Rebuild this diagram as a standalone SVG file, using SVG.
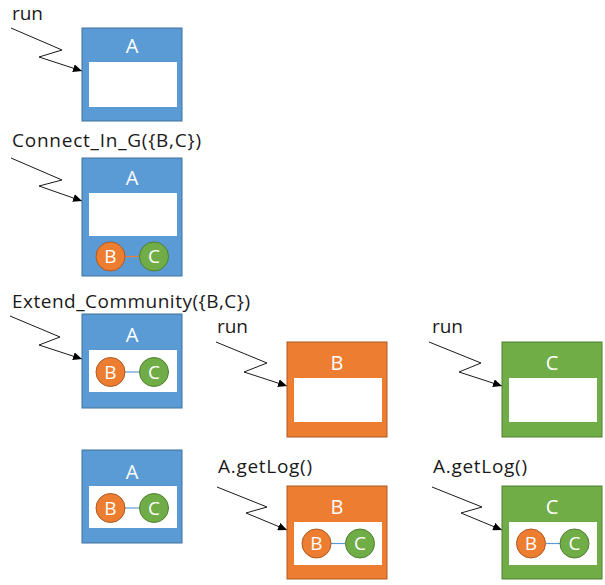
<svg xmlns="http://www.w3.org/2000/svg" width="605" height="585" viewBox="0 0 605 585">
<defs>
<style>
.lbl{font-family:"Open Sans","Liberation Sans",sans-serif;font-size:19px;fill:#1a1a1a}
.nl{font-family:"Open Sans","Liberation Sans",sans-serif;font-size:20px;fill:#ffffff;text-anchor:middle}
.cl{font-family:"Open Sans","Liberation Sans",sans-serif;font-size:19px;fill:#ffffff;text-anchor:middle}
.blue{fill:#5B9BD5;stroke:#41719C;stroke-width:1}
.orange{fill:#ED7D31;stroke:#AE5A21;stroke-width:1}
.green{fill:#70AD47;stroke:#507E32;stroke-width:1}
.inner{fill:#ffffff}
.cb{fill:#ED7D31;stroke:#AE5A21;stroke-width:1}
.cc{fill:#70AD47;stroke:#507E32;stroke-width:1}
.lnb{stroke:#5B9BD5;stroke-width:1.2}
.lno{stroke:#ED7D31;stroke-width:1.2}
.conn{fill:none;stroke:#1a1a1a;stroke-width:1;marker-end:url(#arr)}
</style>
<marker id="arr" markerUnits="userSpaceOnUse" markerWidth="10" markerHeight="8" refX="9" refY="4" orient="auto">
<path d="M0,0 L9,4 L0,8 Z" fill="#000"/>
</marker>
</defs>
<rect width="605" height="585" fill="#ffffff"/>

<g id="labels">
<text class="lbl" x="12" y="19.5" textLength="31">run</text>
<text class="lbl" x="12" y="147" textLength="189">Connect_In_G({B,C})</text>
<text class="lbl" x="12" y="308" textLength="238">Extend_Community({B,C})</text>
<text class="lbl" x="217" y="333" textLength="31">run</text>
<text class="lbl" x="432" y="333" textLength="31">run</text>
<text class="lbl" x="218" y="473" textLength="94">A.getLog()</text>
<text class="lbl" x="433" y="473" textLength="94">A.getLog()</text>
</g>

<g id="connectors">
<path class="conn" d="M11,28 L62,50 L39,57 L82,71"/>
<path class="conn" d="M11,158 L62,180 L39,186 L82,201"/>
<path class="conn" d="M10,316 L60,337 L39,345 L82,359"/>
<path class="conn" d="M216,342 L267,363 L244,372 L287,386"/>
<path class="conn" d="M429,342 L481,363 L459,372 L502,386"/>
<path class="conn" d="M217,487 L267,507 L246,513 L287,530"/>
<path class="conn" d="M432,487 L482,507 L461,513 L502,530"/>
</g>

<g id="nodeA1">
<rect class="blue" x="82" y="28" width="100" height="93"/>
<text class="nl" x="132" y="53">A</text>
<rect class="inner" x="89" y="62" width="88" height="45"/>
</g>

<g id="nodeA2">
<rect class="blue" x="82" y="158" width="100" height="118"/>
<text class="nl" x="132" y="184.5">A</text>
<rect class="inner" x="89" y="193" width="88" height="43"/>
<line class="lno" x1="125" y1="256.5" x2="139.5" y2="256.5"/>
<circle class="cb" cx="110.5" cy="256.5" r="14.5"/>
<circle class="cc" cx="154" cy="256.5" r="14.5"/>
<text class="cl" x="110.5" y="263">B</text>
<text class="cl" x="154" y="263">C</text>
</g>

<g id="nodeA3">
<rect class="blue" x="82" y="314" width="100" height="94"/>
<text class="nl" x="132" y="341.5">A</text>
<rect class="inner" x="89" y="350" width="88" height="42"/>
<line class="lnb" x1="125" y1="372" x2="139.5" y2="372"/>
<circle class="cb" cx="110.5" cy="372" r="14.5"/>
<circle class="cc" cx="154" cy="372" r="14.5"/>
<text class="cl" x="110.5" y="378.5">B</text>
<text class="cl" x="154" y="378.5">C</text>
</g>

<g id="nodeB3">
<rect class="orange" x="287" y="342" width="100" height="95"/>
<text class="nl" x="337" y="370">B</text>
<rect class="inner" x="294" y="378" width="88" height="44"/>
</g>

<g id="nodeC3">
<rect class="green" x="502" y="342" width="100" height="95"/>
<text class="nl" x="552" y="370">C</text>
<rect class="inner" x="509" y="378" width="88" height="44"/>
</g>

<g id="nodeA4">
<rect class="blue" x="82" y="450" width="100" height="93"/>
<text class="nl" x="132" y="478.5">A</text>
<rect class="inner" x="89" y="486" width="88" height="42"/>
<line class="lnb" x1="125" y1="508" x2="139.5" y2="508"/>
<circle class="cb" cx="110.5" cy="508" r="14.5"/>
<circle class="cc" cx="154" cy="508" r="14.5"/>
<text class="cl" x="110.5" y="514.5">B</text>
<text class="cl" x="154" y="514.5">C</text>
</g>

<g id="nodeB4">
<rect class="orange" x="287" y="486" width="100" height="93"/>
<text class="nl" x="337" y="513.5">B</text>
<rect class="inner" x="294" y="522" width="88" height="43"/>
<line class="lnb" x1="331" y1="543.5" x2="345.5" y2="543.5"/>
<circle class="cb" cx="316.5" cy="543.5" r="14.5"/>
<circle class="cc" cx="360" cy="543.5" r="14.5"/>
<text class="cl" x="316.5" y="550">B</text>
<text class="cl" x="360" y="550">C</text>
</g>

<g id="nodeC4">
<rect class="green" x="502" y="486" width="100" height="93"/>
<text class="nl" x="552" y="513.5">C</text>
<rect class="inner" x="509" y="522" width="88" height="43"/>
<line class="lnb" x1="545.5" y1="543.5" x2="560" y2="543.5"/>
<circle class="cb" cx="531" cy="543.5" r="14.5"/>
<circle class="cc" cx="574.5" cy="543.5" r="14.5"/>
<text class="cl" x="531" y="550">B</text>
<text class="cl" x="574.5" y="550">C</text>
</g>
</svg>
